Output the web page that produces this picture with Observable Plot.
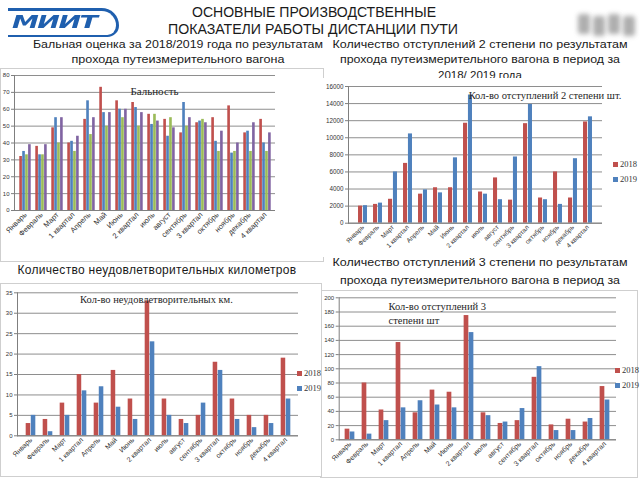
<!DOCTYPE html>
<html>
<head>
<meta charset="utf-8">
<script src="https://cdn.jsdelivr.net/npm/d3@7"></script>
<script src="https://cdn.jsdelivr.net/npm/@observablehq/plot@0.6"></script>
<style>
html,body{margin:0;padding:0;background:#fff;}
#slide{position:relative;width:640px;height:480px;overflow:hidden;font-family:"Liberation Sans",Arial,sans-serif;color:#1a1a1a;}
.t{position:absolute;white-space:nowrap;line-height:1;}
.box{position:absolute;background:#fff;box-sizing:border-box;border:1px solid #cfcfcf;}
.box > svg{position:absolute;left:-1px;top:-1px;}
.lg{position:absolute;font-family:"Liberation Serif","Times New Roman",serif;font-size:8.5px;line-height:15px;color:#333;white-space:nowrap;z-index:2;}
.lg .it{display:flex;align-items:center;height:15px;}
.lg .sw{display:inline-block;width:5px;height:5px;margin-right:2px;}
</style>
</head>
<body>
<div id="slide"></div>
<script>
// ---------- DATA ----------
const categories = ["Январь","Февраль","Март","1 квартал","Апрель","Май","Июнь","2 квартал","июль","август","сентябрь","3 квартал","октябрь","ноябрь","декабрь","4 квартал"];

// Бальность (4 series)
const ballSeries1 = [32,38,49,40,54,73,65,64,57,54,46,52,55,62,46,54];
const ballSeries2 = [35,33,55,41,65,58,60,61,51,44,64,53,41,34,47,40];
const ballSeries3 = [33,33,40,35,45,50,55,50,57,55,50,54,35,35,35,35];
const ballSeries4 = [39,39,55,44,55,58,60,58,53,49,55,52,47,40,52,46];
const ballTicks = [0,10,20,30,40,50,60,70,80];

// Кол-во отступлений 2 степени
const dev2_2018 = [2000,2200,2800,7000,3400,4150,4150,11700,3650,5300,2700,11650,2950,6000,2950,11850];
const dev2_2019 = [2050,2350,6000,10450,3900,3550,7650,15000,3400,2750,7750,13900,2750,2200,7550,12450];
const dev2Ticks = [0,2000,4000,6000,8000,10000,12000,14000,16000];

// Кол-во неудовлетворительных км
const badKm2018 = [3,4,8,15,8,16,9,33,9,4,5,18,9,5,5,19];
const badKm2019 = [5,1,5,11,12,7,4,23,5,3,8,16,4,2,3,9];
const badKmTicks = [0,5,10,15,20,25,30,35];

// Кол-во отступлений 3 степени
const dev3_2018 = [15,80,42,137,38,70,67,175,38,23,27,88,21,29,25,75];
const dev3_2019 = [11,8,27,45,55,49,45,151,34,25,44,103,13,13,30,56];
const dev3Ticks = [0,20,40,60,80,100,120,140,160,180,200];

const years = ["2018","2019"];

// ---------- STYLE ----------
const RED = "#C0504D", BLUE = "#4F81BD", GREEN = "#9BBB59", PURPLE = "#8064A2";
const GRID = "#8e8e8e", AXIS = "#7f7f7f";

const slide = document.getElementById("slide");

// header texts
const texts = [
  {text:"ОСНОВНЫЕ ПРОИЗВОДСТВЕННЫЕ", cx:314, cy:12, size:14.5, w:244},
  {text:"ПОКАЗАТЕЛИ РАБОТЫ ДИСТАНЦИИ ПУТИ", cx:313, cy:29, size:14.5, w:290},
  {text:"Бальная оценка за 2018/2019 года по результатам", cx:178, cy:45, size:11.5, w:290},
  {text:"прохода путеизмерительного вагона", cx:178, cy:60, size:11.5, w:213},
  {text:"Количество отступлений 2 степени по результатам", cx:480, cy:45, size:11.5, w:295},
  {text:"прохода путеизмерительного вагона в период за", cx:480, cy:60, size:11.5, w:280},
  {text:"2018/ 2019 года", cx:480, cy:76, size:11.5},
  {text:"Количество неудовлетворительных километров", cx:157, cy:270, size:12, w:279, ls:true},
  {text:"Количество отступлений 3 степени по результатам", cx:480, cy:263, size:11.5, w:295},
  {text:"прохода путеизмерительного вагона в период за", cx:480, cy:281, size:11.5, w:280}
];
function addText(o){
  const d = document.createElement("div");
  d.className = "t";
  d.textContent = o.text;
  d.style.fontSize = o.size + "px";
  d.style.left = o.cx + "px";
  d.style.top = o.cy + "px";
  slide.appendChild(d);
  const nat = d.getBoundingClientRect().width;
  if (o.w && o.ls) {
    const n = o.text.length;
    d.style.letterSpacing = ((o.w - nat) / n) + "px";
    d.style.transform = "translate(-50%,-50%)";
  } else if (o.w) {
    d.style.transform = `translate(-50%,-50%) scaleX(${o.w / nat})`;
  } else {
    d.style.transform = "translate(-50%,-50%)";
  }
}
texts.forEach(addText);

// logo
(function(){
  const arc = document.createElement("div");
  Object.assign(arc.style, {position:"absolute", left:"8px", top:"8px", width:"108px", height:"24px",
    borderTop:"3px solid #1f5fae", borderRight:"3px solid #1f5fae", borderBottom:"2px solid #1f5fae",
    borderTopRightRadius:"18px", borderBottomRightRadius:"12px", borderLeft:"none"});
  slide.appendChild(arc);
  const lt = document.createElement("div");
  lt.textContent = "МИИТ";
  Object.assign(lt.style, {position:"absolute", left:"12px", top:"13px", fontFamily:"'DejaVu Sans'", fontWeight:"900",
    fontStyle:"italic", fontSize:"18px", lineHeight:"18px", color:"#1f5fae", transform:"scaleX(1.5)", transformOrigin:"left top",
    letterSpacing:"-1px"});
  slide.appendChild(lt);
  // grey logo at top right
  for (let i = 0; i < 4; i++) {
    const b = document.createElement("div");
    Object.assign(b.style, {position:"absolute", left:(578 + i*15)+"px", top:(14 + (i%2)*2)+"px", width:"12px", height:"20px",
      background:"#9a9a9a", borderRadius:"3px", filter:"blur(2.5px)", opacity:"0.8"});
    slide.appendChild(b);
  }
})();

// ---------- CHARTS ----------
function barChart(o){
  const [mt, mr, mb, ml] = o.margin;
  const n = categories.length;
  const bw = (o.width - ml - mr) / n;
  const barW = bw * o.barFrac;
  const off = (bw - barW * o.series.length) / 2;
  const bars = o.series.map((vals, i) => Plot.barY(
    categories.map((c, j) => ({c, v: vals[j]})),
    {x: "c", y: "v", fill: o.colors[i], insetLeft: off + i*barW, insetRight: bw - off - (i+1)*barW}
  ));
  return Plot.plot({
    width: o.width, height: o.height,
    marginTop: mt, marginRight: mr, marginBottom: mb, marginLeft: ml,
    x: {domain: categories, padding: 0, label: null},
    y: {domain: [0, o.ticks[o.ticks.length-1]], label: null},
    style: {background: "transparent", fontFamily: "'Liberation Sans', Arial, sans-serif", color: "#333", overflow: "visible", maxWidth: "none"},
    marks: [
      Plot.gridY(o.ticks, {stroke: GRID, strokeOpacity: 1}),
      ...bars,
      Plot.ruleY([0], {stroke: AXIS}),
      Plot.frame({anchor: "left", stroke: AXIS}),
      Plot.axisY(o.ticks, {tickSize: 3, tickPadding: 2, fontSize: o.yFont, tickFormat: d => String(d), stroke: AXIS, label: null}),
      Plot.axisX({tickRotate: -45, tickSize: 0, tickPadding: 3, fontSize: o.xFont, label: null}),
      Plot.text([o.title], {frameAnchor: o.titleAnchor, textAnchor: o.titleTextAnchor || "middle", lineAnchor: o.titleLineAnchor || "middle",
        dx: o.titleDx, dy: o.titleDy, fontFamily: "'Liberation Serif', 'Times New Roman', serif", fontSize: o.titleSize, fill: "#262626", lineHeight: 1.35})
    ]
  });
}

function addBox(left, top, width, height, border){
  const b = document.createElement("div");
  b.className = "box";
  Object.assign(b.style, {left: left+"px", top: top+"px", width: width+"px", height: height+"px"});
  if (!border) b.style.borderColor = "transparent";
  slide.appendChild(b);
  return b;
}

function addLegend(box, x, y){
  const lg = document.createElement("div");
  lg.className = "lg";
  lg.style.left = x + "px";
  lg.style.top = y + "px";
  [RED, BLUE].forEach((c, i) => {
    const it = document.createElement("div");
    it.className = "it";
    const sw = document.createElement("span");
    sw.className = "sw";
    sw.style.background = c;
    it.appendChild(sw);
    it.appendChild(document.createTextNode(years[i]));
    lg.appendChild(it);
  });
  box.appendChild(lg);
}

// Chart 1: Бальность
{
  const box = addBox(0, 68, 324, 194, true);
  box.appendChild(barChart({
    series: [ballSeries1, ballSeries2, ballSeries3, ballSeries4], colors: [RED, BLUE, GREEN, PURPLE],
    ticks: ballTicks, width: 324, height: 194, margin: [7, 49, 52, 14], barFrac: 0.18,
    title: "Бальность", titleAnchor: "top", titleDx: 9.5, titleDy: 15, titleSize: 11,
    xFont: 7.5, yFont: 6
  }));
}
// Chart 2: отступления 2 степени
{
  const box = addBox(318, 78, 322, 179, false);
  box.appendChild(barChart({
    series: [dev2_2018, dev2_2019], colors: [RED, BLUE],
    ticks: dev2Ticks, width: 322, height: 179, margin: [8, 38, 34.3, 30], barFrac: 0.31,
    title: "Кол-во отступлений 2 степени шт.", titleAnchor: "top", titleDx: 69.5, titleDy: 8, titleSize: 10.5,
    xFont: 6.5, yFont: 6.3
  }));
  addLegend(box, 294, 78);
}
// Chart 4: отступления 3 степени
{
  const box = addBox(320, 290, 318, 188, true);
  box.appendChild(barChart({
    series: [dev3_2018, dev3_2019], colors: [RED, BLUE],
    ticks: dev3Ticks, width: 318, height: 188, margin: [7.3, 22, 38.7, 18.7], barFrac: 0.29,
    title: "Кол-во отступлений 3\nстепени шт", titleAnchor: "top-left", titleTextAnchor: "start", titleLineAnchor: "top",
    titleDx: 49.3, titleDy: 2, titleSize: 10.5,
    xFont: 7, yFont: 6
  }));
  addLegend(box, 294, 72);
}
// Chart 3: неудовлетворительные км (drawn last so its legend stays on top)
{
  const box = addBox(0, 283, 322, 194, true);
  box.appendChild(barChart({
    series: [badKm2018, badKm2019], colors: [RED, BLUE],
    ticks: badKmTicks, width: 322, height: 194, margin: [9.3, 24, 41.7, 17], barFrac: 0.29,
    title: "Кол-во неудовлетворительных км.", titleAnchor: "top", titleDx: -1.5, titleDy: 5.7, titleSize: 10.5,
    xFont: 7, yFont: 6
  }));
  addLegend(box, 296, 82);
}
</script>
</body>
</html>
